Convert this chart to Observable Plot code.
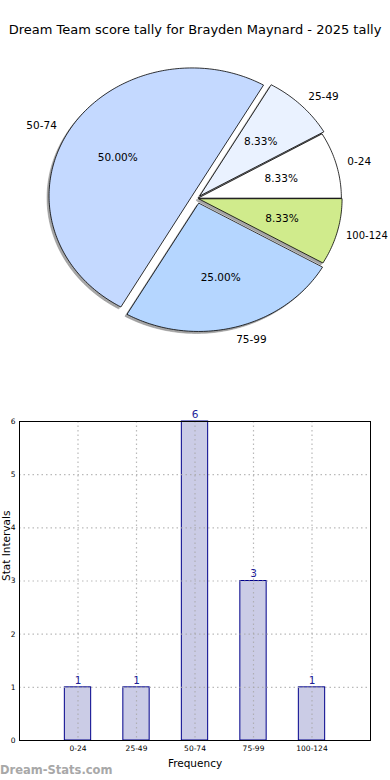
<!DOCTYPE html>
<html>
<head>
<meta charset="utf-8">
<script src="https://cdn.jsdelivr.net/npm/d3@7"></script>
<script src="https://cdn.jsdelivr.net/npm/@observablehq/plot@0.6"></script>
<style>
  body { margin: 0; background: #fff; font-family: "DejaVu Sans", sans-serif; }
  #wrap { position: relative; width: 390px; height: 780px; overflow: hidden; }
  #title { position: absolute; top: 22px; left: 0; width: 390px; text-align: center; font-size: 13px; color: #000; white-space: nowrap; }
  #pie { position: absolute; top: 0; left: 0; }
  #bar { position: absolute; top: 390px; left: 0; }
  #mark { position: absolute; left: 0; top: 763px; font-size: 11.5px; font-weight: bold; color: #a8a8a8; white-space: nowrap; }
  svg { font-family: "DejaVu Sans", sans-serif; }
</style>
</head>
<body>
<div id="wrap">
  <div id="pie"></div>
  <div id="bar"></div>
  <div id="title"></div>
  <div id="mark"></div>
</div>
<script>
// ---- data ----
const titleText = "Dream Team score tally for Brayden Maynard - 2025 tally";
const watermark = "Dream-Stats.com";
const categories = ["0-24", "25-49", "50-74", "75-99", "100-124"];
const counts = [1, 1, 6, 3, 1];
const pieColors = ["#ffffff", "#eaf2ff", "#c4d9ff", "#b5d6ff", "#d0eb8c"];
const explode = [0.01, 0.03, 0.04, 0.04, 0.015];
const yTicks = [0, 1, 2, 3, 4, 5, 6];
const xLabel = "Frequency";
const yLabel = "Stat Intervals";

document.getElementById("title").textContent = titleText;
document.getElementById("mark").textContent = watermark;

// ---- pie geometry (matplotlib style: start at east, counter-clockwise) ----
const total = d3.sum(counts);
let acc = 0;
const slices = categories.map((c, i) => {
  const a0 = acc / total * 2 * Math.PI;
  acc += counts[i];
  const a1 = acc / total * 2 * Math.PI;
  const mid = (a0 + a1) / 2;
  const ox = explode[i] * Math.cos(mid), oy = explode[i] * Math.sin(mid);
  const pts = [{x: ox, y: oy}];
  const n = Math.max(4, Math.ceil((a1 - a0) / (Math.PI / 180)));
  for (let k = 0; k <= n; k++) {
    const t = a0 + (a1 - a0) * k / n;
    pts.push({x: ox + Math.cos(t), y: oy + Math.sin(t)});
  }
  const lx = ox + 1.1 * Math.cos(mid), ly = oy + 1.1 * Math.sin(mid);
  const px = ox + 0.6 * Math.cos(mid), py = oy + 0.6 * Math.sin(mid);
  return {label: c, color: pieColors[i], pts, lx, ly, px, py,
          pct: (counts[i] / total * 100).toFixed(2) + "%"};
});

const cx = 196.5, cy = 198, rx = 143, ry = 128;
const pieMarks = [];
for (const s of slices) {
  pieMarks.push(Plot.line(s.pts, {x: "x", y: "y", curve: "linear-closed",
    fill: "#808080", fillOpacity: 0.7, stroke: "#8a8a8a", strokeOpacity: 0.5, strokeWidth: 1, dx: -2, dy: 2}));
}
for (const s of slices) {
  pieMarks.push(Plot.line(s.pts, {x: "x", y: "y", curve: "linear-closed",
    fill: s.color, stroke: "#000", strokeWidth: 0.8}));
}
const right = slices.filter(d => d.lx > 0);
pieMarks.push(Plot.text(right.filter(d => d.label.length < 6), {x: "lx", y: "ly", text: "label",
  textAnchor: "start", dx: -3, fontSize: 10.5, fill: "#000"}));
pieMarks.push(Plot.text(right.filter(d => d.label.length >= 6), {x: "lx", y: "ly", text: "label",
  textAnchor: "start", dx: -5, fontSize: 10, fill: "#000"}));
pieMarks.push(Plot.text(slices.filter(d => d.lx <= 0), {x: "lx", y: "ly", text: "label",
  textAnchor: "end", dx: 1, fontSize: 10.5, fill: "#000"}));
pieMarks.push(Plot.text(slices, {x: "px", y: "py", text: "pct", fontSize: 10.5, fill: "#000"}));

const pie = Plot.plot({
  width: 390, height: 390, margin: 0,
  x: {domain: [-1, 1], range: [cx - rx, cx + rx], axis: null},
  y: {domain: [-1, 1], range: [cy + ry, cy - ry], axis: null},
  marks: pieMarks
});
pie.style.background = "transparent";
document.getElementById("pie").appendChild(pie);

// ---- bar chart ----
const barData = categories.map((c, i) => ({i, c, v: counts[i]}));
const idx = categories.map((c, i) => i);
const bar = Plot.plot({
  width: 390, height: 390,
  marginLeft: 19, marginRight: 20, marginTop: 31, marginBottom: 40,
  x: {domain: [-1, 5], axis: null},
  y: {domain: [0, 6], axis: null},
  marks: [
    Plot.rect(barData, {x1: d => d.i - 0.225, x2: d => d.i + 0.225, y1: 0, y2: "v",
      fill: "#cbcce6", stroke: "#00008b", strokeWidth: 1}),
    Plot.gridX(idx, {stroke: "#a8a8a8", strokeOpacity: 0.8, strokeDasharray: "1.5,3", strokeWidth: 1.2}),
    Plot.gridY(yTicks.slice(1, -1), {stroke: "#a8a8a8", strokeOpacity: 0.8, strokeDasharray: "1.5,3", strokeWidth: 1.2}),
    Plot.axisY(yTicks, {tickSize: 0, tickPadding: 4, fontSize: 7.5, label: null, tickFormat: d => d}),
    Plot.axisX(idx, {tickSize: 0, tickPadding: 5, fontSize: 7.5, label: null, tickFormat: i => categories[i]}),
    Plot.text(barData, {x: "i", y: "v", text: d => String(d.v), dy: -7, fill: "#1f1f99", fontSize: 10.5}),
    Plot.frame({stroke: "#000", strokeWidth: 1}),
    Plot.text([xLabel], {frameAnchor: "bottom", dy: 26, fontSize: 10.5, fill: "#000"}),
    Plot.text([yLabel], {frameAnchor: "left", rotate: -90, dx: -13, fontSize: 10.5, fill: "#000"})
  ]
});
bar.style.background = "transparent";
document.getElementById("bar").appendChild(bar);
</script>
</body>
</html>
